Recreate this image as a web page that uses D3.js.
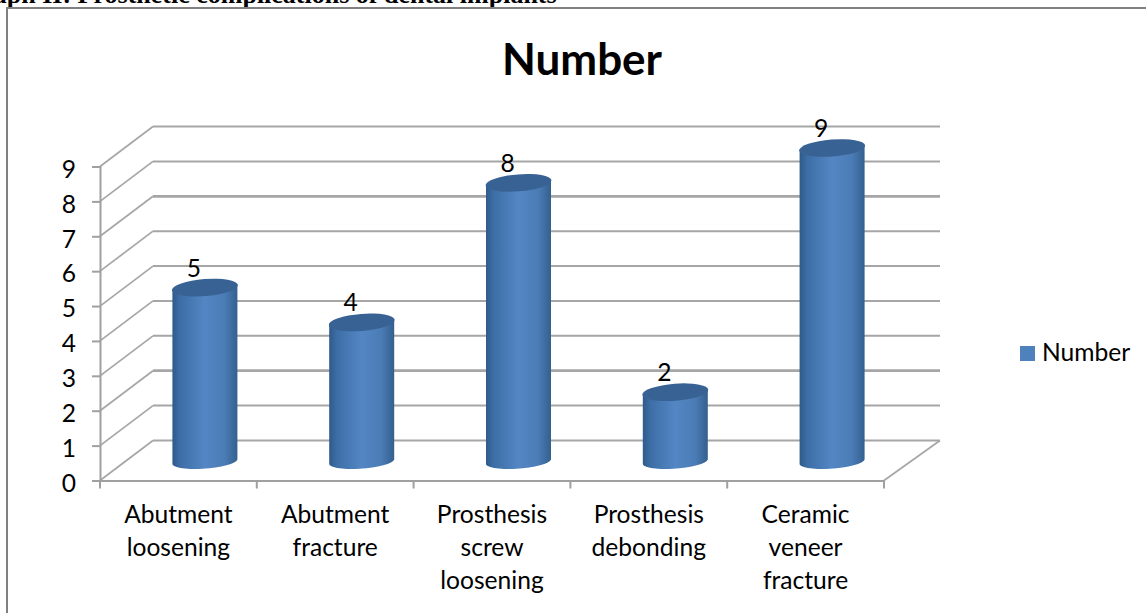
<!DOCTYPE html>
<html>
<head>
<meta charset="utf-8">
<script src="https://cdn.jsdelivr.net/npm/d3@7"></script>
<style>
  html, body { margin: 0; padding: 0; background: #fff; overflow: hidden; }
  text { font-family: Lato, "Open Sans", sans-serif; fill: #000; }
</style>
</head>
<body>
<div id="chart"></div>
<script>
var categories = ["Abutment loosening", "Abutment fracture", "Prosthesis screw loosening", "Prosthesis debonding", "Ceramic veneer fracture"];
var labelLines = [["Abutment", "loosening"], ["Abutment", "fracture"], ["Prosthesis", "screw", "loosening"], ["Prosthesis", "debonding"], ["Ceramic", "veneer", "fracture"]];
var values = [5, 4, 8, 2, 9];
var yTicks = [0, 1, 2, 3, 4, 5, 6, 7, 8, 9];
var seriesName = "Number";
var caption = "Graph II: Prosthetic complications of dental implants";

// set the dimensions of the graph
var width = 1146, height = 613;
var front = {left: 100, right: 884, bottom: 480.5, top: 166.5};
var depth = {x: 53, y: -40};
var labelSize = "24.6px";

var svg = d3.select("#chart")
	.append("svg")
	.attr("width", width)
	.attr("height", height)
	.style("display", "block");

var x = d3.scaleBand()
	.domain(categories)
	.range([front.left, front.right]);

var y = d3.scaleLinear()
	.domain([0, 9])
	.range([front.bottom, front.top]);

// cylinder shading, dark at both edges
var grad = svg.append("defs").append("linearGradient")
	.attr("id", "cyl")
	.attr("x1", "0%").attr("x2", "100%").attr("y1", "0%").attr("y2", "0%");
grad.selectAll("stop")
	.data([[0, "#2f5a8b"], [0.12, "#3d6ea6"], [0.5, "#5386c4"], [0.8, "#4b7cb6"], [1, "#34608f"]])
	.enter().append("stop")
	.attr("offset", function(d) { return d[0]; })
	.attr("stop-color", function(d) { return d[1]; });

// caption above the chart, cut by the top of the picture
svg.append("text")
	.attr("x", -38)
	.attr("y", 2.5)
	.style("font-family", "'Liberation Serif', serif")
	.style("font-weight", "bold")
	.style("font-size", "26px")
	.text(caption);

// chart frame
svg.append("rect")
	.attr("x", 7)
	.attr("y", 8)
	.attr("width", 1160)
	.attr("height", 640)
	.attr("fill", "#fff")
	.attr("stroke", "#808080")
	.attr("stroke-width", 2);

svg.append("text")
	.attr("x", 582)
	.attr("y", 74.5)
	.attr("text-anchor", "middle")
	.style("font-weight", "bold")
	.style("font-size", "44px")
	.text(seriesName);

// gridlines: slanted side wall + back wall
var grid = svg.append("g").attr("stroke", "#a6a6a6").attr("fill", "none");
yTicks.forEach(function(t) {
	var sw = (t == 2 || t == 7) ? 2.8 : 2;
	grid.append("path")
		.attr("stroke-width", 1.7)
		.attr("d", "M" + front.left + "," + y(t) + "L" + (front.left + depth.x) + "," + (y(t) + depth.y));
	grid.append("line")
		.attr("stroke-width", sw)
		.attr("x1", front.left + depth.x)
		.attr("x2", front.right + depth.x + 3)
		.attr("y1", y(t) + depth.y)
		.attr("y2", y(t) + depth.y);
});
// right edge of the floor
grid.append("path")
	.attr("stroke-width", 1.7)
	.attr("d", "M" + front.right + "," + y(0) + "L" + (front.right + depth.x + 3) + "," + (y(0) + depth.y));

// Y axis
var yAxis = svg.append("g")
	.attr("transform", "translate(" + front.left + ",0)")
	.call(d3.axisLeft(y).tickValues(yTicks).tickSize(8).tickPadding(16));
yAxis.selectAll("text").style("font-size", labelSize).attr("dy", "0.44em");

// X axis
var xAxis = svg.append("g")
	.attr("transform", "translate(0," + front.bottom + ")")
	.call(d3.axisBottom(x).tickSize(0).tickFormat(""));
xAxis.selectAll(".tick").remove();
xAxis.selectAll("line.sep")
	.data(categories.concat(["end"]))
	.enter().append("line")
	.attr("class", "sep")
	.attr("x1", function(d, i) { return front.left + i * x.step(); })
	.attr("x2", function(d, i) { return front.left + i * x.step(); })
	.attr("y1", 0)
	.attr("y2", 8);
svg.selectAll(".domain, .tick line, line.sep")
	.attr("stroke", "#a0a0a0")
	.attr("stroke-width", 2);

// wrapped category labels
svg.append("g").selectAll("text")
	.data(categories)
	.enter().append("text")
	.attr("text-anchor", "middle")
	.style("font-size", labelSize)
	.each(function(d, i) {
		d3.select(this).selectAll("tspan")
			.data(labelLines[i])
			.enter().append("tspan")
			.attr("x", x(d) + x.bandwidth() / 2)
			.attr("y", function(l, j) { return 523 + j * 33; })
			.text(function(l) { return l; });
	});

// cylinders
var rx = 32.5, ry = 8.5, tilt = -4.5;
var bars = svg.append("g").selectAll("g")
	.data(values)
	.enter().append("g")
	.attr("transform", function(d, i) {
		return "translate(" + (x(categories[i]) + x.bandwidth() / 2 + depth.x / 2) + ",0)";
	});

// body is a path between the bottom and the top ellipse
bars.append("path")
	.attr("fill", "url(#cyl)")
	.attr("d", function(d) {
		var yb = y(0) + depth.y / 2, yt = y(d) + depth.y / 2;
		return "M" + (-rx) + "," + (yb + 3) +
			"A" + rx + "," + 7 + " " + tilt + " 0 0 " + rx + "," + (yb - 1) +
			"L" + rx + "," + (yt - 2) +
			"L" + (-rx) + "," + (yt + 3) + "Z";
	});

bars.append("ellipse")
	.attr("rx", rx + 0.5)
	.attr("ry", ry)
	.attr("fill", "#386293")
	.attr("transform", function(d) {
		return "translate(0," + (y(d) + depth.y / 2 + 1.5) + ") rotate(" + tilt + ")";
	});

// data labels
bars.append("text")
	.attr("x", -11)
	.attr("y", function(d) { return y(d) + depth.y / 2 - 9.5; })
	.attr("text-anchor", "middle")
	.style("font-size", labelSize)
	.text(function(d) { return d; });

// legend
var legend = svg.append("g");
legend.append("rect")
	.attr("x", 1020)
	.attr("y", 346)
	.attr("width", 15)
	.attr("height", 15)
	.attr("fill", "#4f81bd");
legend.append("text")
	.attr("x", 1042)
	.attr("y", 361)
	.style("font-size", labelSize)
	.text(seriesName);
</script>
</body>
</html>
